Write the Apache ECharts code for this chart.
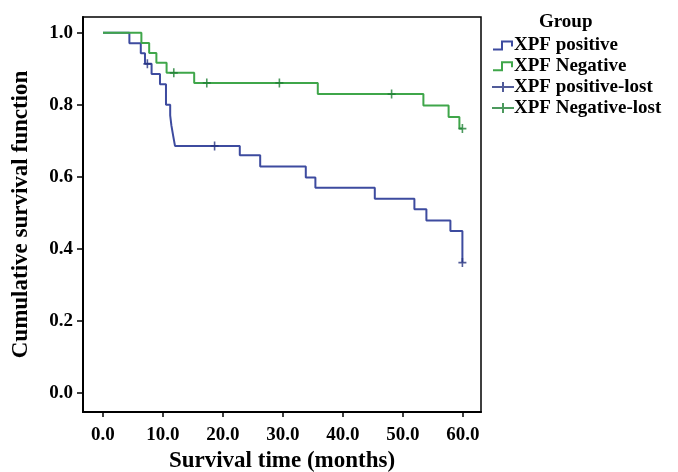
<!DOCTYPE html>
<html>
<head>
<meta charset="utf-8">
<script src="https://cdn.jsdelivr.net/npm/echarts@6/dist/echarts.min.js"></script>
<style>
  html, body { margin: 0; padding: 0; background: #fff; }
  #km_chart { width: 678px; height: 472px; }
</style>
</head>
<body>
<div id="km_chart"></div>
<script>
// survival steps (time in months, cumulative survival)
const blueTime = [0, 4.4, 6.3, 7.0, 8.1, 9.5, 10.5, 11.2, 11.4, 11.7, 12.0, 22.8, 26.2, 33.8, 35.4, 45.3, 51.9, 53.9, 57.9, 59.9];
const blueSurv = [1.0, 0.971, 0.943, 0.914, 0.886, 0.857, 0.800, 0.771, 0.743, 0.714, 0.686, 0.660, 0.629, 0.598, 0.570, 0.539, 0.510, 0.479, 0.450, 0.362];
const blueCensorTime = [7.4, 18.6, 59.9];
const blueCensorSurv = [0.914, 0.686, 0.362];

const greenTime = [0, 6.4, 7.7, 8.9, 10.6, 15.2, 35.8, 53.4, 57.6, 59.4, 59.9];
const greenSurv = [1.0, 0.972, 0.944, 0.917, 0.889, 0.861, 0.830, 0.798, 0.766, 0.734, 0.734];
const greenCensorTime = [11.8, 17.3, 29.4, 48.1, 59.9];
const greenCensorSurv = [0.889, 0.861, 0.861, 0.830, 0.734];

const xTicks = [0, 10, 20, 30, 40, 50, 60];
const yTicks = [0, 0.2, 0.4, 0.6, 0.8, 1.0];

const seriesNames = ['XPF positive', 'XPF Negative', 'XPF positive-lost', 'XPF Negative-lost'];

function zip(a, b) {
    let out = [];
    for (let i = 0; i < a.length; i++) {
        out.push([a[i], b[i]]);
    }
    return out;
}

const serif = '"Liberation Serif", "Times New Roman", serif';
// legend icons drawn in a 22x10 box so keeping aspect does not shrink them
const stepIcon = 'path://M0,8H8V0H20V6H18V2H10V10H0Z';
const plusLegend = 'path://M10,0h2v10h-2z M0,4h22v2h-22z';
const plusMark = 'path://M8,0h4v20h-4z M0,8h20v4h-20z';

const chart = echarts.init(document.getElementById('km_chart'));
chart.setOption({
    backgroundColor: '#fff',
    animation: false,
    title: {
        text: 'Group',
        left: 534,
        top: 8,
        textStyle: {
            fontFamily: serif,
            fontWeight: 'bold',
            fontSize: 19,
            color: '#000'
        }
    },
    legend: {
        orient: 'vertical',
        left: 487,
        top: 31,
        itemWidth: 22,
        itemHeight: 10,
        itemGap: 1.8,
        textStyle: {
            fontFamily: serif,
            fontWeight: 'bold',
            fontSize: 19,
            lineHeight: 19,
            color: '#000',
            padding: [0, 0, 0, -5]
        },
        data: [
            { name: seriesNames[0], icon: stepIcon },
            { name: seriesNames[1], icon: stepIcon },
            { name: seriesNames[2], icon: plusLegend },
            { name: seriesNames[3], icon: plusLegend }
        ]
    },
    grid: {
        left: 83,
        right: 197,
        top: 17,
        bottom: 60,
        outerBoundsMode: 'none',
        containLabel: false,
        show: true,
        borderColor: '#000',
        borderWidth: 1.5
    },
    xAxis: {
        type: 'value',
        min: -3.33,
        max: 63,
        name: 'Survival time (months)',
        nameLocation: 'middle',
        nameGap: 38,
        nameTextStyle: {
            fontFamily: serif,
            fontWeight: 'bold',
            fontSize: 23,
            color: '#000'
        },
        axisLine: { show: true, onZero: false, lineStyle: { color: '#000', width: 2 } },
        axisTick: { show: true, length: 5, customValues: xTicks, lineStyle: { color: '#000', width: 1.5 } },
        axisLabel: {
            customValues: xTicks,
            margin: 14,
            fontFamily: serif,
            fontWeight: 'bold',
            fontSize: 19,
            color: '#000',
            formatter: function (v) { return v.toFixed(1); }
        },
        splitLine: { show: false }
    },
    yAxis: {
        type: 'value',
        min: -0.053,
        max: 1.044,
        name: 'Cumulative survival function',
        nameLocation: 'middle',
        nameGap: 50,
        nameTextStyle: {
            fontFamily: serif,
            fontWeight: 'bold',
            fontSize: 23,
            color: '#000'
        },
        axisLine: { show: true, onZero: false, lineStyle: { color: '#000', width: 2 } },
        axisTick: { show: true, length: 6, customValues: yTicks, lineStyle: { color: '#000', width: 1.5 } },
        axisLabel: {
            customValues: yTicks,
            margin: 10,
            fontFamily: serif,
            fontWeight: 'bold',
            fontSize: 19,
            color: '#000',
            formatter: function (v) { return v.toFixed(1); }
        },
        splitLine: { show: false }
    },
    series: [{
        name: seriesNames[0],
        type: 'line',
        step: 'end',
        showSymbol: false,
        symbol: 'none',
        z: 2,
        lineStyle: { color: '#3d4b9f', width: 2 },
        itemStyle: { color: '#3d4b9f' },
        data: zip(blueTime, blueSurv)
    }, {
        name: seriesNames[1],
        type: 'line',
        step: 'end',
        showSymbol: false,
        symbol: 'none',
        z: 3,
        lineStyle: { color: '#3fa64a', width: 2 },
        itemStyle: { color: '#3fa64a' },
        data: zip(greenTime, greenSurv)
    }, {
        name: seriesNames[2],
        type: 'scatter',
        symbol: plusMark,
        symbolSize: [8, 9],
        z: 4,
        itemStyle: { color: '#26327f' },
        data: zip(blueCensorTime, blueCensorSurv)
    }, {
        name: seriesNames[3],
        type: 'scatter',
        symbol: plusMark,
        symbolSize: [8, 9],
        z: 4,
        itemStyle: { color: '#1f7f34' },
        data: zip(greenCensorTime, greenCensorSurv)
    }]
});
window.addEventListener('resize', function () {
    chart.resize();
});
</script>
</body>
</html>
